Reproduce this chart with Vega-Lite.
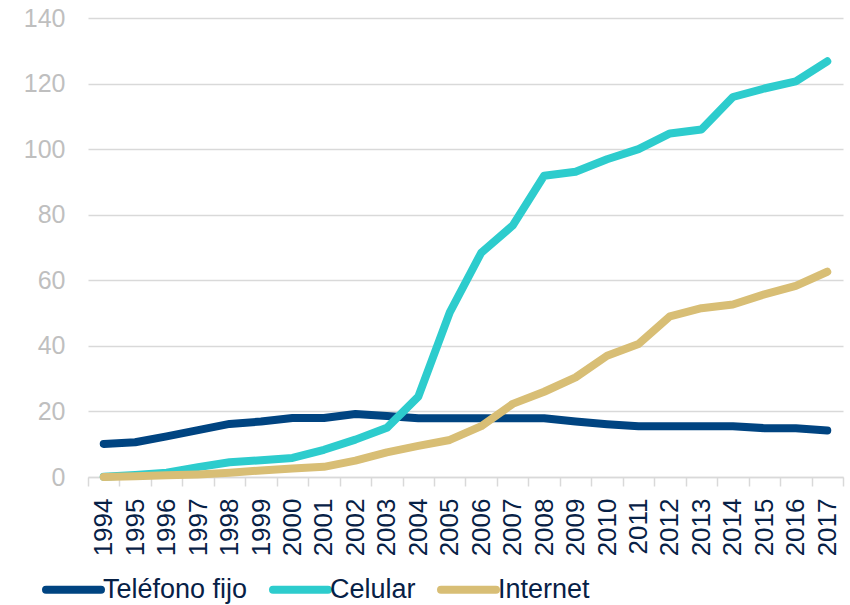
{
  "$schema": "https://vega.github.io/schema/vega-lite/v6.json",
  "width": 755,
  "height": 459,
  "autosize": "none",
  "padding": {"left": 88, "top": 18, "right": 7, "bottom": 128},
  "background": "white",
  "config": {
    "view": {"stroke": null},
    "font": "Liberation Sans"
  },
  "data": {
    "values": [
      {"year": "1994", "serie": "Teléfono fijo", "valor": 10.1},
      {"year": "1995", "serie": "Teléfono fijo", "valor": 10.6},
      {"year": "1996", "serie": "Teléfono fijo", "valor": 12.4},
      {"year": "1997", "serie": "Teléfono fijo", "valor": 14.3},
      {"year": "1998", "serie": "Teléfono fijo", "valor": 16.2},
      {"year": "1999", "serie": "Teléfono fijo", "valor": 16.9},
      {"year": "2000", "serie": "Teléfono fijo", "valor": 18.0},
      {"year": "2001", "serie": "Teléfono fijo", "valor": 18.0},
      {"year": "2002", "serie": "Teléfono fijo", "valor": 19.2},
      {"year": "2003", "serie": "Teléfono fijo", "valor": 18.6},
      {"year": "2004", "serie": "Teléfono fijo", "valor": 17.9},
      {"year": "2005", "serie": "Teléfono fijo", "valor": 17.9},
      {"year": "2006", "serie": "Teléfono fijo", "valor": 17.9},
      {"year": "2007", "serie": "Teléfono fijo", "valor": 17.9},
      {"year": "2008", "serie": "Teléfono fijo", "valor": 17.9},
      {"year": "2009", "serie": "Teléfono fijo", "valor": 16.9},
      {"year": "2010", "serie": "Teléfono fijo", "valor": 16.1},
      {"year": "2011", "serie": "Teléfono fijo", "valor": 15.5},
      {"year": "2012", "serie": "Teléfono fijo", "valor": 15.5},
      {"year": "2013", "serie": "Teléfono fijo", "valor": 15.5},
      {"year": "2014", "serie": "Teléfono fijo", "valor": 15.5},
      {"year": "2015", "serie": "Teléfono fijo", "valor": 14.9},
      {"year": "2016", "serie": "Teléfono fijo", "valor": 14.9},
      {"year": "2017", "serie": "Teléfono fijo", "valor": 14.2},
      {"year": "1994", "serie": "Celular", "valor": 0.1},
      {"year": "1995", "serie": "Celular", "valor": 0.6},
      {"year": "1996", "serie": "Celular", "valor": 1.3},
      {"year": "1997", "serie": "Celular", "valor": 3.0},
      {"year": "1998", "serie": "Celular", "valor": 4.5},
      {"year": "1999", "serie": "Celular", "valor": 5.1},
      {"year": "2000", "serie": "Celular", "valor": 5.8},
      {"year": "2001", "serie": "Celular", "valor": 8.3},
      {"year": "2002", "serie": "Celular", "valor": 11.4},
      {"year": "2003", "serie": "Celular", "valor": 15.0},
      {"year": "2004", "serie": "Celular", "valor": 24.5},
      {"year": "2005", "serie": "Celular", "valor": 50.2},
      {"year": "2006", "serie": "Celular", "valor": 68.4},
      {"year": "2007", "serie": "Celular", "valor": 76.7},
      {"year": "2008", "serie": "Celular", "valor": 91.9},
      {"year": "2009", "serie": "Celular", "valor": 93.1},
      {"year": "2010", "serie": "Celular", "valor": 96.9},
      {"year": "2011", "serie": "Celular", "valor": 100.0},
      {"year": "2012", "serie": "Celular", "valor": 104.8},
      {"year": "2013", "serie": "Celular", "valor": 106.0},
      {"year": "2014", "serie": "Celular", "valor": 115.9},
      {"year": "2015", "serie": "Celular", "valor": 118.5},
      {"year": "2016", "serie": "Celular", "valor": 120.7},
      {"year": "2017", "serie": "Celular", "valor": 126.8},
      {"year": "1994", "serie": "Internet", "valor": 0.0},
      {"year": "1995", "serie": "Internet", "valor": 0.2},
      {"year": "1996", "serie": "Internet", "valor": 0.5},
      {"year": "1997", "serie": "Internet", "valor": 0.8},
      {"year": "1998", "serie": "Internet", "valor": 1.3},
      {"year": "1999", "serie": "Internet", "valor": 2.0},
      {"year": "2000", "serie": "Internet", "valor": 2.6},
      {"year": "2001", "serie": "Internet", "valor": 3.1},
      {"year": "2002", "serie": "Internet", "valor": 5.0},
      {"year": "2003", "serie": "Internet", "valor": 7.5},
      {"year": "2004", "serie": "Internet", "valor": 9.5},
      {"year": "2005", "serie": "Internet", "valor": 11.3},
      {"year": "2006", "serie": "Internet", "valor": 15.5},
      {"year": "2007", "serie": "Internet", "valor": 22.3},
      {"year": "2008", "serie": "Internet", "valor": 26.0},
      {"year": "2009", "serie": "Internet", "valor": 30.4},
      {"year": "2010", "serie": "Internet", "valor": 37.0},
      {"year": "2011", "serie": "Internet", "valor": 40.6},
      {"year": "2012", "serie": "Internet", "valor": 49.0},
      {"year": "2013", "serie": "Internet", "valor": 51.5},
      {"year": "2014", "serie": "Internet", "valor": 52.6},
      {"year": "2015", "serie": "Internet", "valor": 55.7},
      {"year": "2016", "serie": "Internet", "valor": 58.3},
      {"year": "2017", "serie": "Internet", "valor": 62.6}
    ]
  },
  "mark": {"type": "line", "strokeWidth": 8, "strokeCap": "round", "strokeJoin": "round"},
  "encoding": {
    "x": {
      "field": "year",
      "type": "ordinal",
      "bandPosition": 0.5,
      "scale": {"type": "band", "paddingInner": 0, "paddingOuter": 0},
      "axis": {
        "title": null,
        "labelAngle": -90,
        "labelAlign": "right",
        "labelBaseline": "middle",
        "labelFontSize": 26,
        "labelColor": "#072146",
        "labelPadding": 12,
        "tickBand": "extent",
        "tickColor": "#d9d9d9",
        "tickSize": 9,
        "tickWidth": 1.5,
        "domainColor": "#d9d9d9",
        "domainWidth": 1.5,
        "grid": false
      }
    },
    "y": {
      "field": "valor",
      "type": "quantitative",
      "scale": {"domain": [0, 140], "nice": false},
      "axis": {
        "title": null,
        "values": [0, 20, 40, 60, 80, 100, 120, 140],
        "domain": false,
        "ticks": false,
        "labelFontSize": 25,
        "labelColor": "#bfbfbf",
        "labelPadding": 23,
        "gridColor": "#d9d9d9",
        "gridWidth": 1.5
      }
    },
    "color": {
      "field": "serie",
      "type": "nominal",
      "sort": ["Teléfono fijo", "Celular", "Internet"],
      "scale": {
        "domain": ["Teléfono fijo", "Celular", "Internet"],
        "range": ["#004481", "#2dcccd", "#d8be75"]
      },
      "legend": {
        "title": null,
        "orient": "none",
        "direction": "horizontal",
        "legendX": -46,
        "legendY": 540,
        "symbolType": "stroke",
        "symbolSize": 3025,
        "symbolStrokeWidth": 8,
        "symbolOpacity": 1,
        "labelFontSize": 27,
        "labelColor": "#072146",
        "labelOffset": -2,
        "columnPadding": 9,
        "labelLimit": 400,
        "encode": {
          "symbols": {"update": {"strokeCap": {"value": "round"}}}
        }
      }
    }
  }
}
